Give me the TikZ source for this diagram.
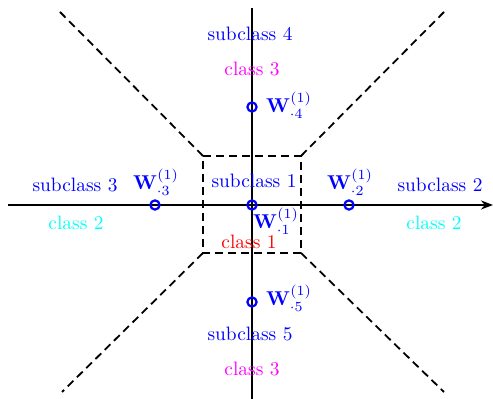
\documentclass[tikz,border=0pt]{standalone}
\usetikzlibrary{arrows.meta}
\definecolor{myblue}{RGB}{0,0,255}
\definecolor{mymagenta}{RGB}{255,0,255}
\definecolor{mycyan}{RGB}{0,255,255}
\definecolor{myred}{RGB}{255,0,0}
\begin{document}
\begin{tikzpicture}[x=0.5pt,y=-0.5pt,
  axis/.style={line width=1pt},
  dashline/.style={line width=0.9pt,dash pattern=on 4pt off 2.5pt},
  wpt/.style={circle,draw=myblue,line width=1.1pt,inner sep=0pt,minimum size=4.6pt},
  lbl/.style={inner sep=1pt,font=\fontsize{9.7}{11}\selectfont},
  wlbl/.style={inner sep=0pt,text=myblue}]
\useasboundingbox (0,0) rectangle (493,399);
% axes
\coordinate (xl) at (8,205);
\coordinate (xr) at (493,205);
\coordinate (yt) at (252,8);
\coordinate (yb) at (252,399);
\draw[axis,-{Stealth[length=6pt,width=4.5pt]}] (xl) -- (xr);
\draw[axis] (yt) -- (yb);
% dashed square and diagonals
\coordinate (s1) at (203,156);
\coordinate (s2) at (301,156);
\coordinate (s3) at (301,253);
\coordinate (s4) at (203,253);
\coordinate (d1) at (60,12);
\coordinate (d2) at (444,12);
\coordinate (d3) at (444,392);
\coordinate (d4) at (62,392);
\draw[dashline] (s1) -- (s2) -- (s3) -- (s4) -- cycle;
\draw[dashline] (s1) -- (d1);
\draw[dashline] (s2) -- (d2);
\draw[dashline] (s3) -- (d3);
\draw[dashline] (s4) -- (d4);
% points
\node[wpt] (w1) at (252,205) {};
\node[wpt] (w2) at (349,205) {};
\node[wpt] (w3) at (155,205) {};
\node[wpt] (w4) at (252,107) {};
\node[wpt] (w5) at (252,302) {};
% W labels
\node[wlbl] (lw1) at (276,221) {$\mathbf{W}^{(1)}_{\cdot 1}$};
\node[wlbl] (lw2) at (350,182) {$\mathbf{W}^{(1)}_{\cdot 2}$};
\node[wlbl] (lw3) at (156,182) {$\mathbf{W}^{(1)}_{\cdot 3}$};
\node[wlbl] (lw4) at (289,105) {$\mathbf{W}^{(1)}_{\cdot 4}$};
\node[wlbl] (lw5) at (289,298) {$\mathbf{W}^{(1)}_{\cdot 5}$};
% text labels
\node[lbl,text=myblue] (sc4) at (250,34) {subclass 4};
\node[lbl,text=mymagenta] (c3a) at (252,69) {class 3};
\node[lbl,text=myblue] (sc3) at (75,185) {subclass 3};
\node[lbl,text=mycyan] (c2a) at (76,223) {class 2};
\node[lbl,text=myblue] (sc1) at (254,181) {subclass 1};
\node[lbl,text=myred] (c1) at (249,242) {class 1};
\node[lbl,text=myblue] (sc2) at (440,185) {subclass 2};
\node[lbl,text=mycyan] (c2b) at (434,223) {class 2};
\node[lbl,text=myblue] (sc5) at (250,334) {subclass 5};
\node[lbl,text=mymagenta] (c3b) at (252,369) {class 3};
\end{tikzpicture}
\end{document}
